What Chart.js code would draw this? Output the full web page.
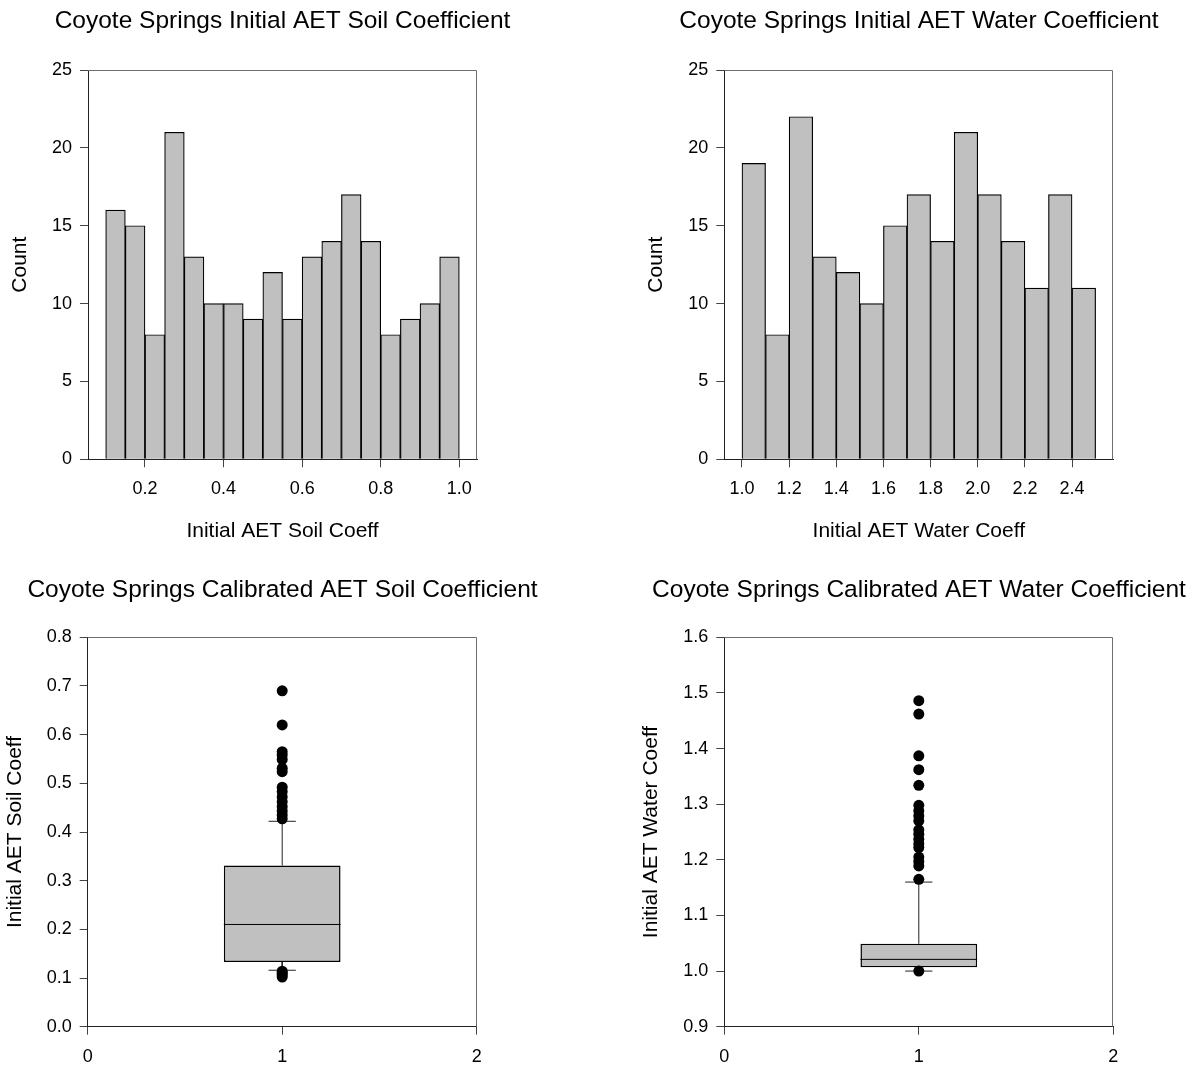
<!DOCTYPE html>
<html>
<head>
<meta charset="utf-8">
<title>Coyote Springs AET Coefficients</title>
<script src="https://cdn.jsdelivr.net/npm/chart.js@4.4.1/dist/chart.umd.min.js"></script>
<style>
  html, body { margin: 0; padding: 0; background: #fff; }
  #sheet { position: relative; width: 1204px; height: 1067px; }
  #sheet canvas { position: absolute; }
</style>
</head>
<body>
<div id="sheet">
  <canvas id="soilHist" width="565" height="560" style="left:0;top:0"></canvas>
  <canvas id="waterHist" width="566" height="560" style="left:636px;top:0"></canvas>
  <canvas id="soilBox" width="565" height="507" style="left:0;top:560px"></canvas>
  <canvas id="waterBox" width="566" height="507" style="left:636px;top:560px"></canvas>
</div>
<script>
// ---- initial coefficients: histogram bin centres + counts ----
const soilBins   = [0.125, 0.175, 0.225, 0.275, 0.325, 0.375, 0.425, 0.475, 0.525,
                    0.575, 0.625, 0.675, 0.725, 0.775, 0.825, 0.875, 0.925, 0.975];
const soilCounts = [16, 15, 8, 21, 13, 10, 10, 9, 12, 9, 13, 14, 17, 14, 8, 9, 10, 13];
const soilTicks  = [0.2, 0.4, 0.6, 0.8, 1.0];

const waterBins   = [1.05, 1.15, 1.25, 1.35, 1.45, 1.55, 1.65, 1.75, 1.85, 1.95,
                     2.05, 2.15, 2.25, 2.35, 2.45];
const waterCounts = [19, 8, 22, 13, 12, 10, 15, 17, 14, 21, 17, 14, 11, 17, 11];
const waterTicks  = [1.0, 1.2, 1.4, 1.6, 1.8, 2.0, 2.2, 2.4];

const countTicks = [0, 5, 10, 15, 20, 25];

// ---- calibrated coefficients: [low whisker, q1, median, q3, high whisker] ----
const soilStats    = [0.116, 0.133, 0.21, 0.331, 0.422];
const soilOutliers = [0.69, 0.62, 0.565, 0.558, 0.549, 0.531, 0.524, 0.492, 0.483,
                      0.472, 0.462, 0.452, 0.443, 0.435, 0.427,
                      0.114, 0.11, 0.106, 0.102];
const soilTicksY   = [0.0, 0.1, 0.2, 0.3, 0.4, 0.5, 0.6, 0.7, 0.8];

const waterStats    = [1.0, 1.007, 1.021, 1.049, 1.16];
const waterOutliers = [1.486, 1.462, 1.387, 1.362, 1.334, 1.298, 1.288, 1.279, 1.27,
                       1.254, 1.246, 1.237, 1.229, 1.222, 1.205, 1.197, 1.189, 1.165,
                       1.0];
const waterTicksY   = [0.9, 1.0, 1.1, 1.2, 1.3, 1.4, 1.5, 1.6];

const groupTicks = [0, 1, 2];

const BOX_HALF = 0.3;   // half box width in x units
const CAP_HALF = 0.07;  // half whisker cap width
const FILL = '#c0c0c0';

Chart.defaults.font.family = '"Liberation Sans", Arial, Helvetica, sans-serif';
Chart.defaults.color = '#000';

// top and right edges of the plot frame
const frame = {
  id: 'frame',
  afterDraw(chart) {
    const { ctx, chartArea: a } = chart;
    const t = Math.round(a.top) + 0.5, r = Math.round(a.right) - 0.5;
    ctx.save();
    ctx.strokeStyle = '#6e6e6e';
    ctx.lineWidth = 1;
    ctx.beginPath();
    ctx.moveTo(a.left, t);
    ctx.lineTo(r, t);
    ctx.lineTo(r, a.bottom);
    ctx.stroke();
    ctx.restore();
  }
};

function axis(o) {
  return {
    type: 'linear',
    min: o.min,
    max: o.max,
    offset: false,
    afterBuildTicks: s => { s.ticks = o.ticks.map(v => ({ value: v })); },
    afterFit: s => { if (s.isHorizontal()) s.height = o.size; else s.width = o.size; },
    grid: { offset: false, drawOnChartArea: false, drawTicks: true, tickLength: 8, color: '#444' },
    border: { color: '#222', width: 1 },
    ticks: { font: { size: 18 }, padding: o.tickPad || 8, autoSkip: false, maxRotation: 0, callback: o.format },
    title: o.title
      ? { display: true, text: o.title, font: { size: 21 }, padding: o.titlePad }
      : { display: false }
  };
}

// empty right-hand axis that only reserves space so the title centres over the plot
function spacer(width) {
  return {
    type: 'linear',
    position: 'right',
    afterFit: s => { s.width = width; },
    ticks: { display: false },
    grid: { display: false },
    border: { display: false }
  };
}

function histData(bins, counts) {
  return [{
    data: bins.map((b, i) => ({ x: b, y: counts[i] })),
    backgroundColor: FILL,
    borderColor: '#000',
    borderWidth: 1.2,
    barPercentage: 1,
    categoryPercentage: 1
  }];
}

function boxData(stats, outliers) {
  const [lo, q1, med, q3, hi] = stats;
  const seg = (pts, color) => ({
    type: 'line', data: pts, borderColor: color || '#000', borderWidth: 1,
    pointRadius: 0, fill: false, order: 1
  });
  return [
    { type: 'scatter', data: outliers.map(v => ({ x: 1, y: v })),
      pointRadius: 5.5, pointBackgroundColor: '#000', pointBorderWidth: 0, order: 0 },
    seg([{ x: 1 - BOX_HALF, y: med }, { x: 1 + BOX_HALF, y: med }]),
    seg([{ x: 1, y: q3 }, { x: 1, y: hi }], '#222'),
    seg([{ x: 1, y: q1 }, { x: 1, y: lo }], '#222'),
    seg([{ x: 1 - CAP_HALF, y: hi }, { x: 1 + CAP_HALF, y: hi }], '#222'),
    seg([{ x: 1 - CAP_HALF, y: lo }, { x: 1 + CAP_HALF, y: lo }], '#222'),
    { type: 'bar', data: [{ x: 1, y: [q1, q3] }], backgroundColor: FILL,
      borderColor: '#000', borderWidth: 1.5, borderSkipped: false,
      categoryPercentage: BOX_HALF * 2, barPercentage: 1, order: 2 }
  ];
}

function makeChart(id, datasets, x, y, title, titlePad, padRight) {
  return new Chart(document.getElementById(id), {
    type: 'bar',
    data: { datasets },
    options: {
      responsive: false,
      animation: false,
      devicePixelRatio: 1,
      layout: { padding: 0 },
      plugins: {
        legend: { display: false },
        tooltip: { enabled: false },
        title: {
          display: true, text: title, color: '#000',
          font: { size: 24.5, weight: 'normal' }, padding: titlePad
        }
      },
      scales: { x, y, yRight: spacer(padRight) }
    },
    plugins: [frame]
  });
}

const one = v => v.toFixed(1);

makeChart('soilHist', histData(soilBins, soilCounts),
  axis({ min: 0.055, max: 1.045, ticks: soilTicks, size: 100.7, format: one, tickPad: 11,
         title: 'Initial AET Soil Coeff', titlePad: { top: 0, bottom: 16.4 } }),
  axis({ min: 0, max: 25, ticks: countTicks, size: 88, format: v => v,
         title: 'Count', titlePad: { top: 7.4, bottom: 0 } }),
  'Coyote Springs Initial AET Soil Coefficient', { top: 6.5, bottom: 34.1 }, 88);

makeChart('waterHist', histData(waterBins, waterCounts),
  axis({ min: 0.925, max: 2.575, ticks: waterTicks, size: 100.7, format: one, tickPad: 11,
         title: 'Initial AET Water Coeff', titlePad: { top: 0, bottom: 16.4 } }),
  axis({ min: 0, max: 25, ticks: countTicks, size: 88.3, format: v => v,
         title: 'Count', titlePad: { top: 8.1, bottom: 0 } }),
  'Coyote Springs Initial AET Water Coefficient', { top: 6.5, bottom: 34.1 }, 88.7);

makeChart('soilBox', boxData(soilStats, soilOutliers),
  axis({ min: 0, max: 2, ticks: groupTicks, size: 40.3, format: v => v, tickPad: 12 }),
  axis({ min: 0, max: 0.8, ticks: soilTicksY, size: 87.7, format: one,
         title: 'Initial AET Soil Coeff', titlePad: { top: 2.4, bottom: 0 } }),
  'Coyote Springs Calibrated AET Soil Coefficient', { top: 15.6, bottom: 32.3 }, 88.3);

makeChart('waterBox', boxData(waterStats, waterOutliers),
  axis({ min: 0, max: 2, ticks: groupTicks, size: 40.3, format: v => v, tickPad: 12 }),
  axis({ min: 0.9, max: 1.6, ticks: waterTicksY, size: 88.3, format: one,
         title: 'Initial AET Water Coeff', titlePad: { top: 2.4, bottom: 0 } }),
  'Coyote Springs Calibrated AET Water Coefficient', { top: 15.6, bottom: 32.3 }, 88.7);
</script>
</body>
</html>
